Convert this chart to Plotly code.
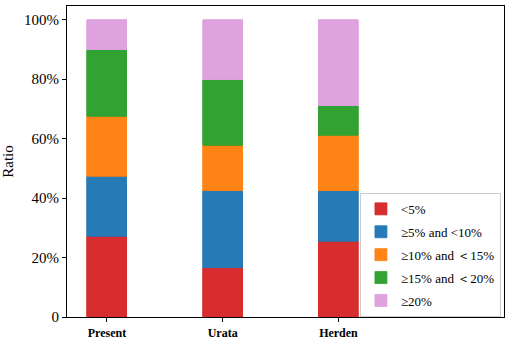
import plotly.graph_objects as go

categories = ["Present", "Urata", "Herden"]
series_names = ["<5%", "≥5% and <10%", "≥10% and \uff1c15%", "≥15% and \uff1c20%", "≥20%"]
v_lt5 = [27.1, 16.6, 25.4]
v_5_10 = [20.3, 25.9, 17.1]
v_10_15 = [20.1, 15.3, 18.7]
v_15_20 = [22.4, 22.0, 9.9]
v_ge20 = [10.1, 20.2, 28.9]
colors = ["#d62728", "#1f77b4", "#ff7f0e", "#2ca02c", "#dda0dd"]

values = [v_lt5, v_5_10, v_10_15, v_15_20, v_ge20]
xpos = list(range(len(categories)))

fig = go.Figure()
for i, (name, vals, col) in enumerate(zip(series_names, values, colors)):
    fig.add_trace(go.Bar(
        x=xpos, y=vals, name=name, width=0.345,
        marker=dict(color=col, line=dict(width=0.8, color=col)),
        opacity=0.97, legendgroup="g%d" % i,
    ))

font_family = "Liberation Serif, Times New Roman, serif"
fig.update_layout(
    barmode="stack",
    width=510, height=345,
    margin=dict(l=65, r=6, t=5, b=23),
    plot_bgcolor="white", paper_bgcolor="white",
    font=dict(family=font_family, color="black"),
    showlegend=True,
    legend=dict(
        x=0.993, y=0.399, xanchor="right", yanchor="top",
        traceorder="grouped", tracegroupgap=3,
        itemwidth=30,
        bgcolor="white", bordercolor="#cccccc", borderwidth=1,
        font=dict(family=font_family, size=13, color="black"),
    ),
    xaxis=dict(
        tickmode="array", tickvals=xpos,
        ticktext=["<b>%s</b>" % c for c in categories],
        range=[-0.345, 3.43],
        showline=True, linecolor="black", linewidth=1, mirror=True,
        ticks="outside", ticklen=4, tickcolor="black",
        tickfont=dict(family=font_family, size=12),
        ticklabelstandoff=1,
        showgrid=False, zeroline=False,
    ),
    yaxis=dict(
        range=[0, 104.6],
        tickvals=[0, 20, 40, 60, 80, 100],
        ticktext=["0", "20%", "40%", "60%", "80%", "100%"],
        showline=True, linecolor="black", linewidth=1, mirror=True,
        ticks="outside", ticklen=4, tickcolor="black",
        tickfont=dict(family=font_family, size=15),
        title=dict(text="Ratio", font=dict(family=font_family, size=15), standoff=8),
        showgrid=False, zeroline=False,
    ),
)

fig.write_html(
    "out.html",
    config={"displayModeBar": False},
    post_script="document.body.style.margin='0';document.body.style.overflow='hidden';",
)
